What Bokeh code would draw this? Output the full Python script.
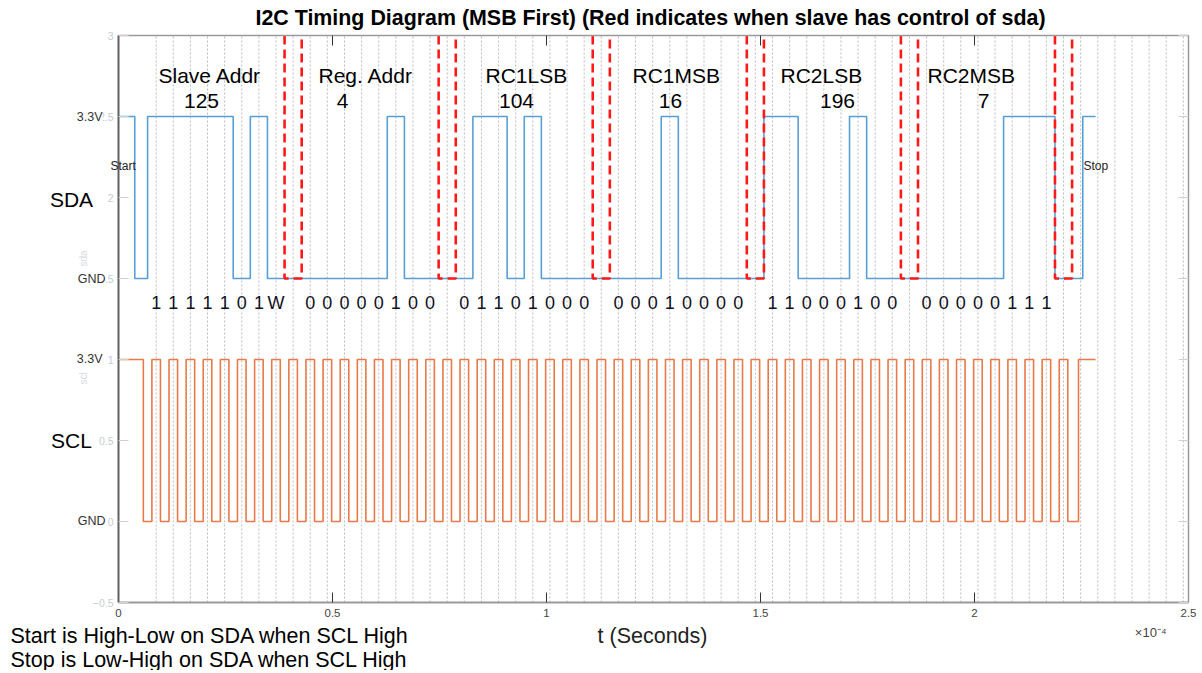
from bokeh.plotting import figure
from bokeh.models import Range1d, LinearAxis, FixedTicker, Label
from bokeh.embed import file_html
from bokeh.resources import INLINE

# ---------------- data ----------------
byte_names = ["Slave Addr", "Reg. Addr", "RC1LSB", "RC1MSB", "RC2LSB", "RC2MSB"]
byte_values = [125, 4, 104, 16, 196, 7]
addr_bits = 7                 # slave address: 7 bits, then W (write = 0)
bit_period_us = 4.0
sda_start_fall_us = 3.8
scl_first_fall_us = 5.8
first_bit_us = 6.8
scl_stop_rise_us = 224.3
sda_stop_rise_us = 225.3
end_us = 228.3
grid_first_us = 8.8
x_max_us = 250.0
x_ticks = [0, 0.5, 1, 1.5, 2, 2.5]
y_ticks = [-0.5, 0, 0.5, 1, 1.5, 2, 2.5, 3]
y_min, y_max = -0.5, 3.0
sda_low, sda_high = 1.5, 2.5
scl_low, scl_high = 0.0, 1.0

# ---------------- layout ----------------
W, H = 1200, 670
FL, FR, FT, FB = 118, 1188, 35, 602          # plot-box edges (px)
X_END = x_max_us / 100.0
PXX = (FR - FL) / X_END                        # px per x unit
PXY = (FB - FT) / (y_max - y_min)              # px per y unit
FONT = "Liberation Sans"
S = 1.0 / 100.0   # microseconds -> units of 1e-4 s


def X(px):
    return (px - FL) / PXX


def Y(py):
    return y_max - (py - FT) / PXY


name_px = [158, 318, 485, 632, 780, 927]
value_px = [201, 342, 516, 670, 837, 983]

# ---------------- derived waveforms ----------------
T = bit_period_us
slot_levels = []
bit_texts = []
for i, v in enumerate(byte_values):
    if i == 0:
        s = format(v, "0%db" % addr_bits)
        bits = [int(c) for c in s] + [0]
        txt = list(s) + ["W"]
    else:
        s = format(v, "08b")
        bits = [int(c) for c in s]
        txt = list(s)
    slot_levels += bits + [0]          # ACK slot (slave pulls low)
    bit_texts.append(txt)

sx = [0, sda_start_fall_us, sda_start_fall_us, first_bit_us]
sy = [sda_high, sda_high, sda_low, sda_low]
for k, b in enumerate(slot_levels):
    t0 = first_bit_us + k * T
    lvl = sda_high if b else sda_low
    sx += [t0, t0 + T]
    sy += [lvl, lvl]
sx += [sda_stop_rise_us, sda_stop_rise_us, end_us]
sy += [sda_low, sda_high, sda_high]

cx = [0, scl_first_fall_us, scl_first_fall_us]
cy = [scl_high, scl_high, scl_low]
for k in range(len(slot_levels)):
    r = first_bit_us + T / 4 + k * T
    f = r + T / 2
    cx += [r, r, f, f]
    cy += [scl_low, scl_high, scl_high, scl_low]
cx += [scl_stop_rise_us, scl_stop_rise_us, end_us]
cy += [scl_low, scl_high, scl_high]

grid_x = []
g = grid_first_us
while g <= x_max_us:
    grid_x.append(g * S)
    g += T

red_xs, red_ys = [], []
for j in range(len(byte_values)):
    a = first_bit_us + (9 * j + 8) * T
    red_xs.append([a * S, a * S, (a + T) * S, (a + T) * S])
    red_ys.append([y_max, sda_low, sda_low, y_max])

# ---------------- figure (frame = whole canvas, axes pinned to the box) ----------------
p = figure(width=W, height=H, output_backend="svg", toolbar_location=None,
           x_range=Range1d(X(0), X(W)), y_range=Range1d(Y(H), Y(0)),
           min_border=0, min_border_left=0, min_border_right=0,
           min_border_top=0, min_border_bottom=0)
p.xgrid.visible = False
p.ygrid.visible = False
p.outline_line_color = None
p.background_fill_color = "white"
p.border_fill_color = "white"

xa = p.xaxis[0]
xa.fixed_location = y_min
xa.bounds = (0, X_END)
xa.ticker = FixedTicker(ticks=x_ticks)
xa.major_tick_in = 10
xa.major_tick_out = 0
xa.major_tick_line_color = "#333333"
xa.minor_tick_line_color = None
xa.axis_line_color = "#9a9a9a"
xa.axis_line_width = 2
xa.major_label_text_color = "#444444"
xa.major_label_text_font = FONT
xa.major_label_text_font_size = "11.5px"
xa.major_label_standoff = 6

ya = p.yaxis[0]
ya.fixed_location = 0
ya.bounds = (y_min, y_max)
ya.ticker = FixedTicker(ticks=y_ticks)
ya.major_tick_in = 10
ya.major_tick_out = 0
ya.major_tick_line_color = "#d0d0d0"
ya.minor_tick_line_color = None
ya.axis_line_color = "#606060"
ya.axis_line_width = 2
ya.major_label_text_color = "#c4ccd4"
ya.major_label_text_font = FONT
ya.major_label_text_font_size = "10.5px"
ya.major_label_standoff = 5

top = LinearAxis(fixed_location=y_max, bounds=(0, X_END),
                 ticker=FixedTicker(ticks=x_ticks), major_tick_in=10, major_tick_out=0,
                 major_tick_line_color="#333333", minor_tick_line_color=None,
                 axis_line_color="#9a9a9a", axis_line_width=1.5, major_label_standoff=0,
                 major_label_overrides={t: "" for t in x_ticks})
p.add_layout(top, "above")
right = LinearAxis(fixed_location=X_END, bounds=(y_min, y_max),
                   ticker=FixedTicker(ticks=y_ticks), major_tick_in=10, major_tick_out=0,
                   major_tick_line_color="#d0d0d0", minor_tick_line_color=None,
                   axis_line_color="#9a9a9a", axis_line_width=1.5, major_label_standoff=0,
                   major_label_overrides={t: "" for t in y_ticks})
p.add_layout(right, "right")

# grid (dotted vertical lines at the bit sample points)
p.segment(x0=grid_x, y0=[y_min] * len(grid_x), x1=grid_x, y1=[y_max] * len(grid_x),
          line_color="#bcbcbc", line_width=1, line_dash="2 2")

# waveforms
p.line([v * S for v in cx], cy, line_color="#e8794a", line_width=1.6)
p.line([v * S for v in sx], sy, line_color="#5a9fd4", line_width=1.6)
p.multi_line(red_xs, red_ys, line_color="#ff1a1a", line_width=2.6, line_dash="9 5")


def lab(x, y, text, size, color="#000000", align="center", baseline="middle",
        style="normal", angle=0.0, bg=None):
    l = Label(x=x, y=y, text=text, text_font=FONT, text_font_size=size,
              text_color=color, text_align=align, text_baseline=baseline,
              text_font_style=style, angle=angle)
    if bg:
        l.background_fill_color = bg
    p.add_layout(l)


# title
lab(X(650), Y(17), "I2C Timing Diagram (MSB First) (Red indicates when slave has control of sda)",
    "21.4px", style="bold")

# byte names, values and bits
for j in range(len(byte_names)):
    lab(X(name_px[j]), Y(75), byte_names[j], "21px", align="left")
    lab(X(value_px[j]), Y(100), str(byte_values[j]), "21px")
    for i, t in enumerate(bit_texts[j]):
        xc = (first_bit_us + (9 * j + i) * T + T / 2) * S
        lab(xc, Y(302), t, "18px", color="#111122")

# left side labels
for py in (116, 358):
    lab(X(102), Y(py), "3.3V", "12.5px", color="#333333", align="right", bg="white")
for py in (278, 520):
    lab(X(105), Y(py), "GND", "12.5px", color="#333333", align="right", bg="white")
lab(X(71), Y(199), "SDA", "21px")
lab(X(71), Y(440), "SCL", "21px")
lab(X(83), Y(258), "sda", "10px", color="#d3dbe3", angle=1.5708)
lab(X(83), Y(378), "scl", "10px", color="#d3dbe3", angle=1.5708)
lab(X(110), Y(165), "Start", "12px", color="#222222", align="left")
lab(X(1083), Y(165), "Stop", "12px", color="#222222", align="left")

# x axis label and exponent
lab(X(652), Y(635), "t (Seconds)", "21.5px", color="#222222")
lab(X(1166), Y(632), "×10⁻⁴", "13px", color="#444444", align="right")

# notes
lab(X(10), Y(635), "Start is High-Low on SDA when SCL High", "21.5px", align="left")
lab(X(10), Y(659), "Stop is Low-High on SDA when SCL High", "21.5px", align="left")

open("out.html", "w").write(file_html(p, INLINE))
